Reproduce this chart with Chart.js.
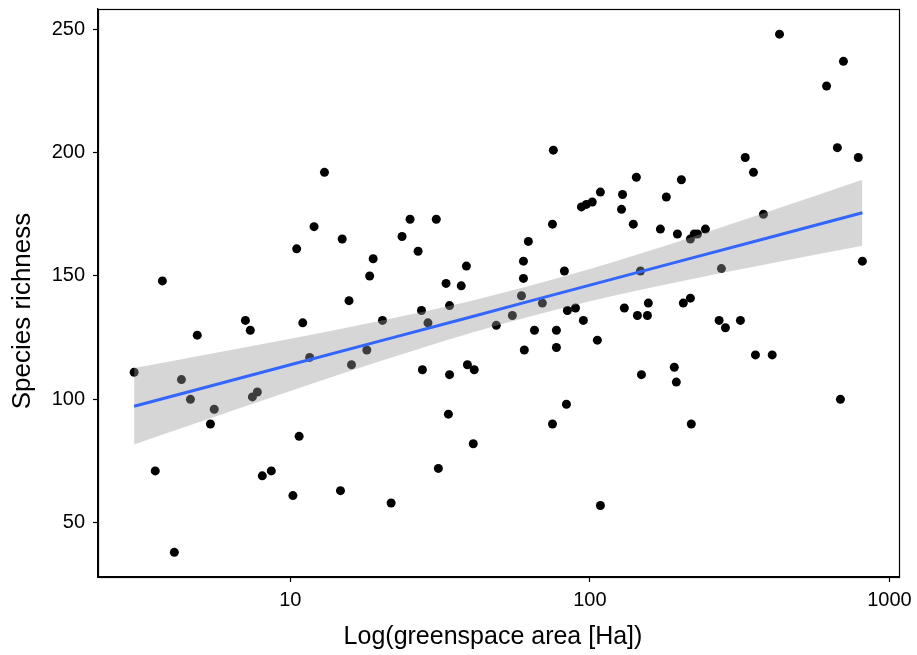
<!DOCTYPE html>
<html>
<head>
<meta charset="utf-8">
<script src="https://cdn.jsdelivr.net/npm/chart.js@4.4.0/dist/chart.umd.min.js"></script>
<style>
  html, body { margin: 0; padding: 0; background: #fff; }
</style>
</head>
<body>
<canvas id="greenspace" width="917" height="655"></canvas>
<script>
// greenspace area (Ha) and species richness
const areaHa = [
    3.01, 3.54, 3.74, 4.10, 4.33, 4.64, 4.89, 5.41, 5.57, 7.08,
    7.35, 7.47, 7.76, 8.06, 8.64, 10.2, 10.5, 10.7, 11.0, 11.6,
    12.0, 13.0, 14.7, 14.9, 15.7, 16.0, 18.0, 18.4, 18.9, 20.3,
    21.7, 23.6, 25.1, 26.7, 27.4, 27.6, 28.8, 30.7, 31.2, 33.1,
    33.7, 34.0, 34.0, 37.2, 38.7, 39.0, 40.8, 41.1, 48.7, 55.1,
    59.1, 60.0, 60.0, 60.4, 62.3, 65.3, 69.4, 75.0, 75.0, 75.5,
    77.3, 77.3, 82.2, 83.5, 84.1, 89.5, 93.7, 95.1, 97.3, 101.8,
    105.9, 108.4, 108.4, 128.5, 127.5, 130.3, 139.6, 142.9, 144.1, 147.5,
    148.6, 156.7, 155.6, 171.9, 179.9, 191.3, 194.3, 195.9, 202, 205,
    216.5, 218, 216.5, 223, 228.6, 243, 270, 274.8, 283.4, 318,
    330, 351.6, 357, 379.6, 406, 429.5, 616.6, 670, 686, 702,
    787, 812
];
const richness = [
    111, 71, 148, 38, 108, 100, 126, 90, 96, 132,
    128, 101, 103, 69, 71, 61, 161, 85, 131, 117,
    170, 192, 63, 165, 140, 114, 120, 150, 157, 132,
    58, 166, 173, 160, 136, 112, 131, 173, 72, 147,
    94, 138, 110, 146, 154, 114, 82, 112, 130, 134,
    142, 149, 156, 120, 164, 128, 139, 90, 171, 201,
    121, 128, 152, 98, 136, 137, 178, 132, 179, 180,
    124, 57, 184, 183, 177, 137, 171, 190, 134, 152,
    110, 139, 134, 169, 182, 113, 107, 167, 189, 139,
    141, 90, 165, 167, 167, 169, 132, 153, 129, 132,
    198, 192, 118, 175, 118, 248, 227, 202, 100, 237,
    198, 156
];

// fitted line + 95% band (geom_smooth lm)
const fitArea  = [3.01, 5, 10, 20, 40, 63, 100, 200, 400, 812];
const fitMean  = [97.2, 104.3, 114.0, 123.7, 133.4, 139.8, 146.3, 156.0, 165.7, 175.6];
const fitLower = [81.7, 90.9, 103.4, 115.5, 126.9, 133.6, 139.8, 147.8, 155.1, 162.2];
const fitUpper = [112.7, 117.7, 124.6, 131.9, 139.9, 146.0, 152.8, 164.2, 176.3, 189.0];

const xTicks = [10, 100, 1000];
const yTicks = [50, 100, 150, 200, 250];
const xTitle = 'Log(greenspace area [Ha])';
const yTitle = 'Species richness';

const FONT = '"Liberation Sans", Arial, sans-serif';

const pts = areaHa.map((a, i) => ({ x: a, y: richness[i] }));
const toXY = (ys) => fitArea.map((a, i) => ({ x: a, y: ys[i] }));

// panel border like ggplot, plus the axis titles placed by hand
const panelBox = {
    id: 'panelBox',
    afterDraw(chart) {
        const { ctx, chartArea: a } = chart;
        ctx.save();
        ctx.strokeStyle = '#000';
        ctx.lineWidth = 1.2;
        ctx.strokeRect(a.left + 0.5, a.top + 0.5, a.right - a.left, a.bottom - a.top);

        ctx.fillStyle = '#000';
        ctx.textAlign = 'center';
        ctx.textBaseline = 'middle';
        ctx.font = '25px ' + FONT;
        ctx.fillText(xTitle, 493, 637);

        ctx.translate(23, 311);
        ctx.rotate(-Math.PI / 2);
        ctx.font = '26px ' + FONT;
        ctx.fillText(yTitle, 0, 0);
        ctx.restore();
    }
};

new Chart(document.getElementById('greenspace'), {
    type: 'scatter',
    data: {
        datasets: [
            {
                label: 'sites',
                data: pts,
                backgroundColor: '#000',
                borderWidth: 0,
                pointRadius: 4.5,
                order: 3
            },
            {
                type: 'line',
                label: 'lower',
                data: toXY(fitLower),
                borderWidth: 0,
                pointRadius: 0,
                fill: false,
                cubicInterpolationMode: 'monotone',
                order: 2
            },
            {
                type: 'line',
                label: 'upper',
                data: toXY(fitUpper),
                borderWidth: 0,
                pointRadius: 0,
                fill: '-1',
                backgroundColor: 'rgba(153,153,153,0.4)',
                cubicInterpolationMode: 'monotone',
                order: 2
            },
            {
                type: 'line',
                label: 'fit',
                data: toXY(fitMean),
                borderColor: '#3366FF',
                borderWidth: 3,
                pointRadius: 0,
                fill: false,
                order: 1
            }
        ]
    },
    options: {
        responsive: false,
        devicePixelRatio: 1,
        animation: false,
        layout: { padding: { top: 9, right: 18, left: 0, bottom: 0 } },
        plugins: {
            legend: { display: false },
            tooltip: { enabled: false }
        },
        scales: {
            x: {
                type: 'logarithmic',
                min: 2.28,
                max: 1076,
                afterBuildTicks: (s) => { s.ticks = xTicks.map(v => ({ value: v })); },
                afterFit: (s) => { s.height = 78; s.paddingLeft = 0; s.paddingRight = 0; },
                ticks: {
                    callback: (v) => String(v),
                    color: '#000',
                    font: { family: FONT, size: 20 },
                    padding: 6,
                    maxRotation: 0,
                    autoSkip: false
                },
                grid: { drawOnChartArea: false, tickLength: 5, color: '#000', tickWidth: 1.2 },
                border: { color: '#000', width: 1.2 }
            },
            y: {
                min: 28,
                max: 258.2,
                afterBuildTicks: (s) => { s.ticks = yTicks.map(v => ({ value: v })); },
                afterFit: (s) => { s.width = 98; s.paddingTop = 0; s.paddingBottom = 0; },
                ticks: {
                    color: '#000',
                    font: { family: FONT, size: 20 },
                    padding: 8
                },
                grid: { drawOnChartArea: false, tickLength: 5, color: '#000', tickWidth: 1.2 },
                border: { color: '#000', width: 1.2 }
            }
        }
    },
    plugins: [panelBox]
});
</script>
</body>
</html>
